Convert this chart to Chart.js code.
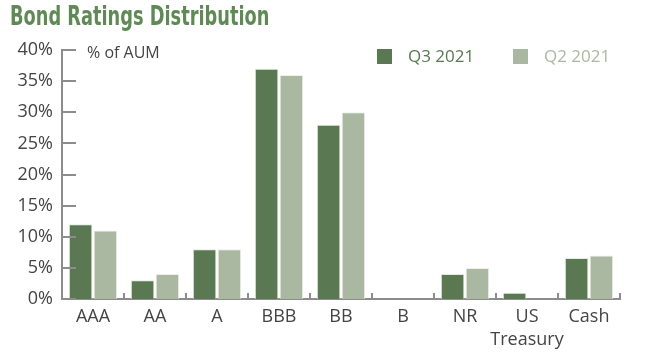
<!DOCTYPE html>
<html>
<head>
<meta charset="utf-8">
<script src="https://cdn.jsdelivr.net/npm/chart.js@4.4.0/dist/chart.umd.min.js"></script>
<style>
  body { margin: 0; background: #fff; }
  #wrap { position: relative; width: 650px; height: 358px; overflow: hidden; }
  #chart { position: absolute; left: 0; top: 0; }
  .title { position: absolute; left: 10px; top: 1px; font-family: "DejaVu Sans Condensed", sans-serif;
    font-weight: bold; font-size: 26px; color: #5f8a55; transform: scaleX(0.76); transform-origin: left top; white-space: nowrap; }
  .unit { position: absolute; left: 87px; top: 41px; font-family: "Open Sans", sans-serif; font-size: 16px; color: #444; }
  .legend { position: absolute; top: 44px; font-family: "Open Sans", sans-serif; font-size: 17px; }
  .legend span.box { display: inline-block; width: 15px; height: 15px; vertical-align: -2px; margin-right: 16px; }
</style>
</head>
<body>
<div id="wrap">
  <canvas id="chart" width="650" height="358"></canvas>
  <div class="title">Bond Ratings Distribution</div>
  <div class="unit">% of AUM</div>
  <div class="legend" id="leg1" style="left:377px;"></div>
  <div class="legend" id="leg2" style="left:513px;"></div>
</div>
<script>
// Bond ratings distribution, % of AUM
const categories = ['AAA', 'AA', 'A', 'BBB', 'BB', 'B', 'NR', ['US', 'Treasury'], 'Cash'];
const q3Values = [12, 3, 8, 37, 28, 0, 4, 1, 6.6];
const q2Values = [11, 4, 8, 36, 30, 0, 5, 0, 7];
const seriesNames = ['Q3 2021', 'Q2 2021'];
const yTicks = [0, 5, 10, 15, 20, 25, 30, 35, 40];

const darkGreen = '#5a7852';
const lightGreen = '#abb8a1';
const axisGrey = '#8c8c8c';

// legend as html
[['leg1', darkGreen, seriesNames[0]], ['leg2', lightGreen, seriesNames[1]]].forEach(([id, col, name]) => {
    const el = document.getElementById(id);
    el.innerHTML = '<span class="box" style="background:' + col + '"></span>' + name;
    el.style.color = col;
});

// inward ticks on both axes
const axisTicks = {
    id: 'axisTicks',
    afterDraw(chart) {
        const ctx = chart.ctx;
        const x = chart.scales.x;
        const y = chart.scales.y;
        ctx.save();
        ctx.strokeStyle = axisGrey;
        ctx.lineWidth = 2;
        yTicks.forEach(v => {
            const py = Math.round(y.getPixelForValue(v));
            ctx.beginPath();
            ctx.moveTo(x.left, py);
            ctx.lineTo(x.left + 14, py);
            ctx.stroke();
        });
        const n = categories.length;
        const step = x.width / n;
        for (let i = 1; i <= n; i++) {
            const px = Math.round(x.left + i * step);
            ctx.beginPath();
            ctx.moveTo(px, y.bottom);
            ctx.lineTo(px, y.bottom - 6);
            ctx.stroke();
        }
        ctx.restore();
    }
};

new Chart(document.getElementById('chart'), {
    type: 'bar',
    data: {
        labels: categories,
        datasets: [{
            label: seriesNames[0],
            data: q3Values,
            backgroundColor: darkGreen,
            borderColor: 'rgba(225,232,220,0.9)',
            borderWidth: 1
        }, {
            label: seriesNames[1],
            data: q2Values,
            backgroundColor: lightGreen,
            borderColor: 'rgba(235,240,230,0.9)',
            borderWidth: 1
        }]
    },
    options: {
        responsive: false,
        animation: false,
        layout: { padding: { top: 50, right: 30, left: 0, bottom: 0 } },
        categoryPercentage: 0.8,
        barPercentage: 0.95,
        plugins: {
            legend: { display: false },
            tooltip: { enabled: false }
        },
        scales: {
            x: {
                grid: { display: false, drawTicks: false },
                border: { display: true, color: axisGrey, width: 2 },
                ticks: {
                    color: '#444',
                    padding: 7,
                    autoSkip: false,
                    maxRotation: 0,
                    font: { family: 'Open Sans', size: 18, lineHeight: 1.25 }
                },
                afterFit(scale) { scale.height = 59; }
            },
            y: {
                min: 0,
                max: 40,
                grid: { display: false, drawTicks: false },
                border: { display: true, color: axisGrey, width: 2 },
                ticks: {
                    stepSize: 5,
                    color: '#444',
                    padding: 9,
                    font: { family: 'Open Sans', size: 18 },
                    callback: v => v + '%'
                },
                afterFit(scale) { scale.width = 62; }
            }
        }
    },
    plugins: [axisTicks]
});
</script>
</body>
</html>
